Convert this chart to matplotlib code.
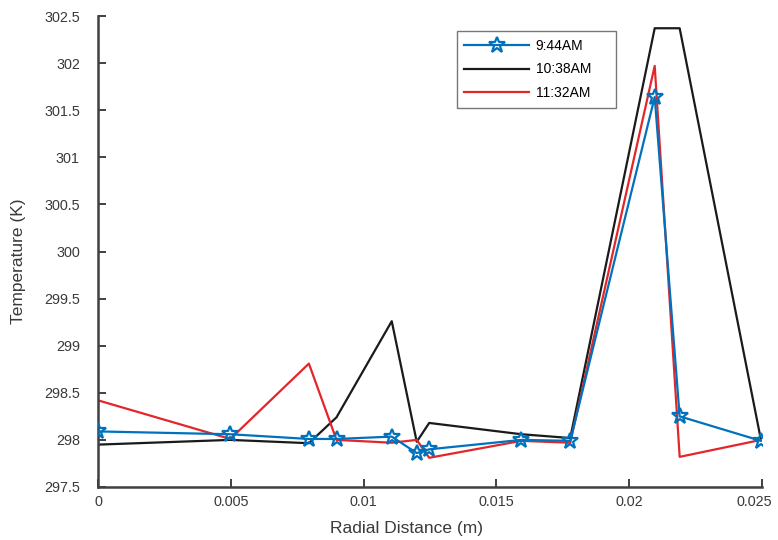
import matplotlib
matplotlib.use("Agg")
import matplotlib.pyplot as plt
import matplotlib.transforms as mtransforms

plt.rcParams['font.family'] = ['Liberation Sans', 'DejaVu Sans']

x_blue = [0.0, 0.00498, 0.00794, 0.00898, 0.01106, 0.0120, 0.01247, 0.01594, 0.01778, 0.02096, 0.0219, 0.02496]
t_blue = [298.09, 298.06, 298.01, 298.01, 298.035, 297.86, 297.90, 298.0, 297.99, 301.64, 298.25, 297.99]

x_black = [0.0, 0.00498, 0.00794, 0.00898, 0.01106, 0.0120, 0.01247, 0.01594, 0.01778, 0.02096, 0.0219, 0.02496]
t_black = [297.95, 298.0, 297.965, 298.24, 299.26, 297.98, 298.18, 298.06, 298.02, 302.37, 302.37, 298.0]

x_red = [0.0, 0.00498, 0.00794, 0.00898, 0.01106, 0.0120, 0.01247, 0.01594, 0.01778, 0.02096, 0.0219, 0.02496]
t_red = [298.42, 298.01, 298.81, 298.0, 297.97, 298.0, 297.81, 297.99, 297.97, 301.97, 297.82, 298.0]

labels = ["9:44AM", "10:38AM", "11:32AM"]
xticks = [0, 0.005, 0.01, 0.015, 0.02, 0.025]
xticklabels = ["0", "0.005", "0.01", "0.015", "0.02", "0.025"]
yticks = [297.5, 298, 298.5, 299, 299.5, 300, 300.5, 301, 301.5, 302, 302.5]
yticklabels = ["297.5", "298", "298.5", "299", "299.5", "300", "300.5", "301", "301.5", "302", "302.5"]

fig = plt.figure(figsize=(7.78, 5.40), dpi=100)
ax = fig.add_axes([98 / 778, 1 - 487 / 540, 664 / 778, 471 / 540])

gray = '#404040'
ax.plot(x_blue, t_blue, color='#0072BD', lw=1.6, marker='*', markersize=12,
        markerfacecolor='none', markeredgewidth=1.6, label=labels[0], zorder=3)
ax.plot(x_black, t_black, color='#1a1a1a', lw=1.6, label=labels[1], zorder=2)
ax.plot(x_red, t_red, color='#E3262A', lw=1.6, label=labels[2], zorder=2)

ax.set_xlim(0, 0.025)
ax.set_ylim(297.5, 302.5)
ax.set_xticks(xticks)
ax.set_xticklabels(xticklabels)
ax.set_yticks(yticks)
ax.set_yticklabels(yticklabels)

for s in ['top', 'right']:
    ax.spines[s].set_visible(False)
for s in ['left', 'bottom']:
    ax.spines[s].set_color(gray)
    ax.spines[s].set_linewidth(1.8)

ax.tick_params(axis='both', direction='in', length=5.5, width=1.4, colors=gray,
               labelsize=10.4, labelcolor='#3a3a3a')
ax.tick_params(axis='x', pad=6)
ax.tick_params(axis='y', pad=13)

# keep the last x tick label inside the figure, as in the reference
last = ax.get_xticklabels()[-1]
last.set_transform(last.get_transform() +
                   mtransforms.ScaledTranslation(-8 / 100, 0, fig.dpi_scale_trans))

ax.set_xlabel("Radial Distance (m)", fontsize=12.5, color='#3a3a3a')
ax.set_ylabel("Temperature (K)", fontsize=12.5, color='#3a3a3a')
ax.xaxis.set_label_coords(0.464, -0.072)
ax.yaxis.set_label_coords(-0.108, 0.48)

leg = ax.legend(loc='upper left', bbox_to_anchor=(0.540, 0.0, 0.2406, 0.968),
                mode='expand', frameon=True,
                fancybox=False, edgecolor='#555555', fontsize=10,
                handlelength=4.7, borderpad=0.55, labelspacing=0.7,
                handletextpad=0.45, borderaxespad=0.0)
leg.get_frame().set_linewidth(1.0)

fig.savefig("out.png", dpi=100)
